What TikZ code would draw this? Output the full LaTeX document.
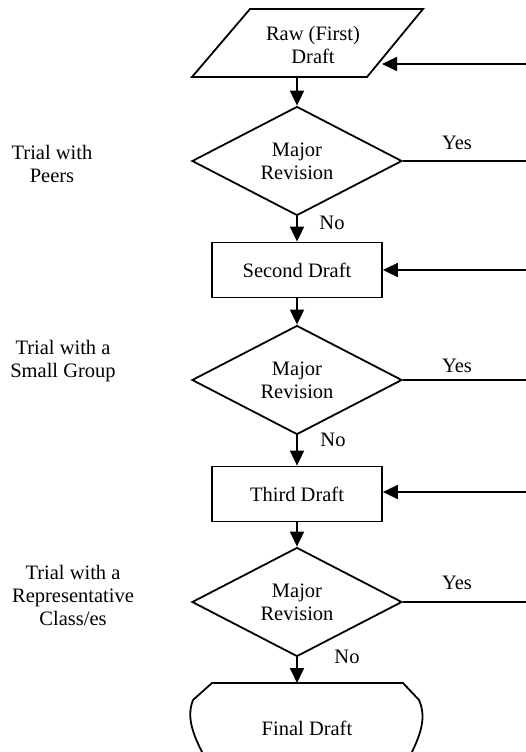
\documentclass[tikz,border=0pt]{standalone}
\usepackage{fontspec}
\setmainfont{Liberation Serif}
\usetikzlibrary{shapes.geometric,arrows.meta}
\begin{document}
\begin{tikzpicture}[x=1pt,y=-1pt,
  every node/.style={font=\fontsize{20.5}{23}\selectfont, align=center},
  line/.style={line width=1.8pt},
  arr/.style={line width=1.8pt,-{Triangle[length=15pt,width=14pt]}},
  dia/.style={draw,line width=1.8pt,diamond,minimum width=210pt,minimum height=109pt,inner sep=0pt},
  boxnode/.style={draw,line width=1.8pt,rectangle,minimum width=170pt,minimum height=55pt,inner sep=0pt},
  plain/.style={inner sep=0pt}]
\useasboundingbox (0,0) rectangle (526,752);
\clip (0,0) rectangle (526,752);
% parallelogram
\coordinate (p1) at (250,9);
\coordinate (p2) at (423,9);
\coordinate (p3) at (367,77);
\coordinate (p4) at (192,77);
\draw[line,line join=miter] (p1) -- (p2) -- (p3) -- (p4) -- cycle;
\node[plain] (raw) at (313,45) {Raw (First)\\Draft};
\coordinate (rawb) at (297,77);
\coordinate (rawr) at (382,64);
% diamonds
\node[dia] (d1) at (297,161) {};
\node[plain] at (d1) {Major\\Revision};
\node[boxnode] (b2) at (297,270) {Second Draft};
\node[dia] (d2) at (297,380) {};
\node[plain] at (d2) {Major\\Revision};
\node[boxnode] (b3) at (297,494) {Third Draft};
\node[dia] (d3) at (297,602) {};
\node[plain] at (d3) {Major\\Revision};
% final draft
\coordinate (ft) at (297,683);
\draw[line] (206,760) .. controls (196,740) and (185,720) .. (193,700) -- (212,683) -- (403,683) -- (419,700) .. controls (428,720) and (418,740) .. (408,760);
\node[plain] (fin) at (307,728) {Final Draft};
% side labels
\node[plain] (l1) at (52,164) {Trial with\\Peers};
\node[plain] (l2) at (63,361) {Trial with a\\Small Group};
\node[plain] (l3) at (73,595) {Trial with a\\Representative\\Class/es};
% right edge coordinates
\coordinate (e0) at (526,64);
\coordinate (e1) at (526,161);
\coordinate (e2) at (526,270);
\coordinate (e3) at (526,380);
\coordinate (e4) at (526,492);
\coordinate (e5) at (526,602);
% main flow
\draw[arr] (rawb) -- (d1.north);
\draw[arr] (d1.south) -- (b2.north);
\draw[arr] (b2.south) -- (d2.north);
\draw[arr] (d2.south) -- (b3.north);
\draw[arr] (b3.south) -- (d3.north);
\draw[arr] (d3.south) -- (ft);
% yes lines
\draw[line] (d1.east) -- (e1);
\draw[line] (d2.east) -- (e3);
\draw[line] (d3.east) -- (e5);
\node[plain] at (457,143) {Yes};
\node[plain] at (457,366) {Yes};
\node[plain] at (457,583) {Yes};
% no labels
\node[plain] at (332,223) {No};
\node[plain] at (333,440) {No};
\node[plain] at (347,657) {No};
% feedback arrows
\draw[arr] (e0) -- (rawr);
\draw[arr] (e2) -- (b2.east);
\draw[arr] (e4) -- (b3.east |- e4);
\end{tikzpicture}
\end{document}
